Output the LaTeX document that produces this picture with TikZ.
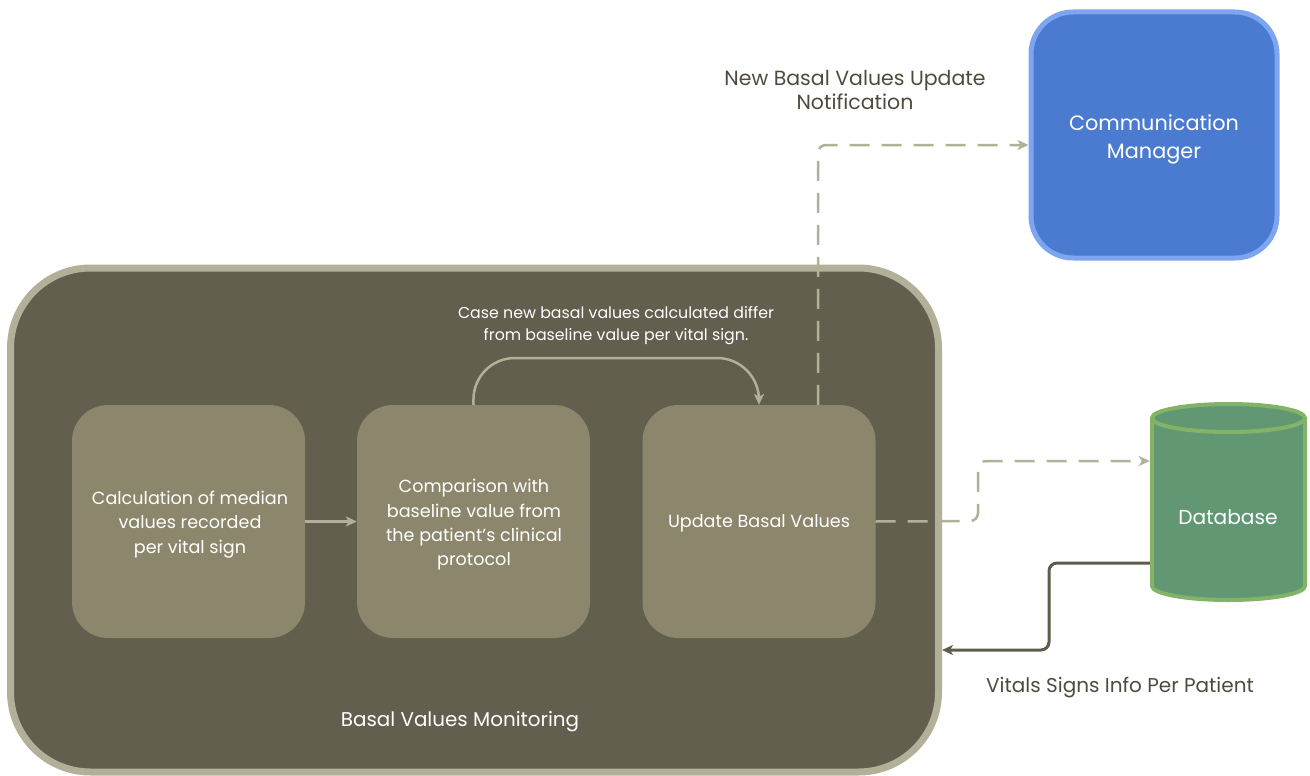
\documentclass[tikz,border=0pt]{standalone}
\usepackage{fontspec}
\setmainfont{Poppins}
\usetikzlibrary{arrows.meta,calc}

\definecolor{monfill}{HTML}{625F4E}
\definecolor{monline}{HTML}{B3B09A}
\definecolor{stepfill}{HTML}{8B866C}
\definecolor{commfill}{HTML}{4A7BD0}
\definecolor{commline}{HTML}{7EA6F0}
\definecolor{dbfill}{HTML}{629773}
\definecolor{dbline}{HTML}{82B366}
\definecolor{feedline}{HTML}{5F5C4B}
\definecolor{labeltext}{HTML}{4F4B3C}

\tikzset{
  x=1pt, y=-1pt,
  container/.style={draw=monline, fill=monfill, line width=7pt, rounded corners=80pt,
    minimum width=928pt, minimum height=504pt},
  stepbox/.style={fill=stepfill, rounded corners=36pt, minimum width=233pt,
    minimum height=233pt, text=white, align=center, font=\fontsize{17.6}{24.3}\selectfont},
  commbox/.style={draw=commline, fill=commfill, line width=5pt, rounded corners=42pt,
    minimum width=246pt, minimum height=246pt, text=white, align=center,
    font=\fontsize{20.8}{28}\selectfont},
  tip/.style={-{Stealth[length=11pt,width=10pt,inset=3pt]}},
  innerflow/.style={tip, draw=monline, line width=2.5pt},
  notify/.style={tip, draw=monline, line width=2.5pt, dash pattern=on 20pt off 12pt,
    rounded corners=8pt},
  feed/.style={tip, draw=feedline, line width=3pt, rounded corners=8pt},
  darklabel/.style={text=labeltext, align=center, font=\fontsize{20.5}{24}\selectfont},
  whitelabel/.style={text=white, align=center},
}

\begin{document}
\begin{tikzpicture}
\useasboundingbox (0,0) rectangle (1310,776);

% outer monitoring container
\node[container] (mon) at (474.5,520) {};
\node[whitelabel, font=\fontsize{19.9}{24}\selectfont] (montitle) at (460,722) {Basal Values Monitoring};

% processing steps
\node[stepbox] (b1) at (188.5,521.5) {};
\node[stepbox] (b2) at (473.5,521.5) {};
\node[stepbox] (b3) at (759,521.5) {};
\node[stepbox, minimum size=0pt, fill=none] (t1) at (190,524.5) {Calculation of median\\values recorded\\per vital sign};
\node[stepbox, minimum size=0pt, fill=none] (t2) at (474,525) {Comparison with\\baseline value from\\the patient's clinical\\protocol};
\node[stepbox, minimum size=0pt, fill=none] (t3) at (759,523) {Update Basal Values};

\draw[innerflow] (b1) -- (b2);
\draw[innerflow, rounded corners=42pt] (b2.north) -- (473,358) -- (759,358) -- (b3.north);
\node[whitelabel, font=\fontsize{15.8}{22}\selectfont] (cond) at (616,326)
  {Case new basal values calculated differ\\from baseline value per vital sign.};

% communication manager
\node[commbox] (comm) at (1154,135) {};
\node[commbox, minimum size=0pt, draw=none, fill=none] (commtext) at (1154,139) {Communication\\Manager};
\coordinate (nstart) at ($(b3.north)+(59,0)$);
\coordinate (nend) at ($(comm.west)+(0,10)$);
\draw[notify] (nstart) |- (nend);
\node[darklabel] (nlabel) at (855,90) {New Basal Values Update\\Notification};

% database cylinder
\node[minimum width=157pt, minimum height=197pt] (db) at (1228.5,501.5) {};
\filldraw[draw=dbline, fill=dbfill, line width=4pt]
  (1152,418) -- (1152,586) arc[start angle=180, end angle=0, x radius=76.5, y radius=14]
  -- (1305,418) arc[start angle=0, end angle=-180, x radius=76.5, y radius=14] -- cycle;
\draw[draw=dbline, line width=4pt]
  (1152,418) arc[start angle=180, end angle=0, x radius=76.5, y radius=14];
\node[text=white, font=\fontsize{20.2}{24}\selectfont] (dbtext) at (1228,517) {Database};

% store updated values
\coordinate (sbend) at (978,521);
\draw[notify] (b3.east) -- (sbend) |- ($(db.west)+(0,-40.5)$);

% vital signs feed back into monitoring
\coordinate (fstart) at ($(db.west)+(0,61.5)$);
\coordinate (fend) at ($(mon.east)+(0,130)$);
\draw[feed] (fstart) -- (1049,563) -- (1049,650) -- (fend);
\node[darklabel, font=\fontsize{20}{24}\selectfont] (flabel) at (1120,688) {Vitals Signs Info Per Patient};
\end{tikzpicture}
\end{document}
